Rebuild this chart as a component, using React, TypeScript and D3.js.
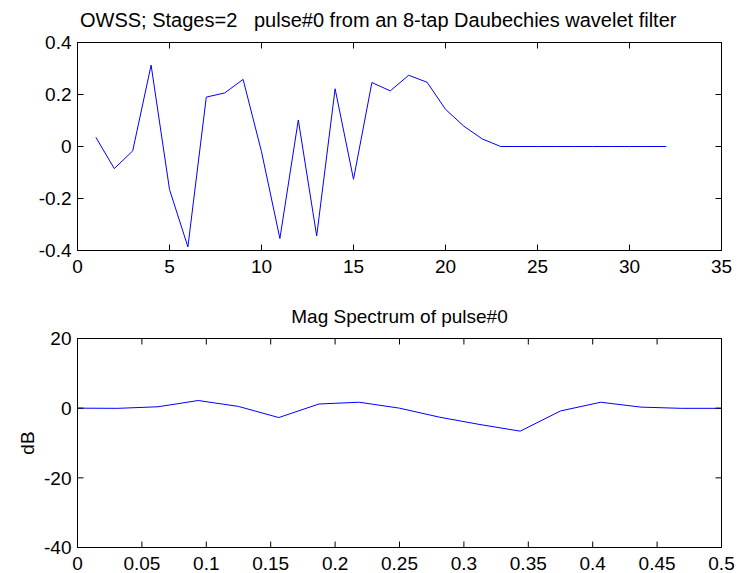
import React from "react";
import * as d3 from "d3";

const pulseX = d3.range(1, 33);
const pulseY = [
  0.035, -0.085, -0.017, 0.313, -0.165, -0.386, 0.19, 0.206, 0.258, -0.02,
  -0.354, 0.102, -0.344, 0.222, -0.126, 0.246, 0.214, 0.274, 0.247, 0.143,
  0.078, 0.029, 0, 0, 0, 0, 0, 0, 0, 0, 0, 0,
];
const freqX = d3.range(0, 17).map((i) => i / 32);
const magDb = [
  0, -0.05, 0.4, 2.2, 0.5, -2.7, 1.2, 1.7, 0, -2.6, -4.7, -6.6, -0.8, 1.7,
  0.3, -0.05, -0.05,
];
const topXTicks = [0, 5, 10, 15, 20, 25, 30, 35];
const topYTicks = [-0.4, -0.2, 0, 0.2, 0.4];
const botXTicks = [0, 0.05, 0.1, 0.15, 0.2, 0.25, 0.3, 0.35, 0.4, 0.45, 0.5];
const botYTicks = [-40, -20, 0, 20];
const topTitle = "OWSS; Stages=2   pulse#0 from an 8-tap Daubechies wavelet filter";
const botTitle = "Mag Spectrum of pulse#0";
const botYLabel = "dB";

const FONT = "'Liberation Sans', Arial, sans-serif";
const FS = 19;
const TICK = 6;

function Panel({ x0, x1, y0, y1, xDom, yDom, xTicks, yTicks, xs, ys, title, titleStyle, ylabel, fmtX, fmtY }) {
  const x = d3.scaleLinear().domain(xDom).range([x0, x1]);
  const y = d3.scaleLinear().domain(yDom).range([y1, y0]);
  const line = d3.line<number>().x((_, i) => x(xs[i])).y((d) => y(d));
  return (
    <g>
      <path d={line(ys) || ""} fill="none" stroke="#0000ff" strokeWidth={1} />
      <rect x={x0} y={y0} width={x1 - x0} height={y1 - y0} fill="none" stroke="#000" strokeWidth={1} />
      {xTicks.map((t) => (
        <g key={"x" + t}>
          <line x1={x(t)} x2={x(t)} y1={y1} y2={y1 - TICK} stroke="#000" />
          <line x1={x(t)} x2={x(t)} y1={y0} y2={y0 + TICK} stroke="#000" />
          <text x={x(t)} y={y1 + 22.5} textAnchor="middle" fontSize={FS} fontFamily={FONT}>{fmtX(t)}</text>
        </g>
      ))}
      {yTicks.map((t) => (
        <g key={"y" + t}>
          <line x1={x0} x2={x0 + TICK} y1={y(t)} y2={y(t)} stroke="#000" />
          <line x1={x1} x2={x1 - TICK} y1={y(t)} y2={y(t)} stroke="#000" />
          <text x={x0 - 6} y={y(t) + 6.8} textAnchor="end" fontSize={FS} fontFamily={FONT}>{fmtY(t)}</text>
        </g>
      ))}
      <text x={titleStyle.x ?? (x0 + x1) / 2} y={y0 - 15.5} textAnchor={titleStyle.anchor}
        fontSize={titleStyle.size} fontFamily={FONT} style={{ whiteSpace: "pre" }}>{title}</text>
      {ylabel && (
        <text transform={`translate(${x0 - 44},${(y0 + y1) / 2}) rotate(-90)`} textAnchor="middle" fontSize={FS} fontFamily={FONT}>{ylabel}</text>
      )}
    </g>
  );
}

export default function App() {
  return (
    <svg width={738} height={573} style={{ position: "absolute", left: 0, top: 0, background: "#fff" }} shapeRendering="crispEdges">
      <rect width={738} height={573} fill="#fff" />
      <g shapeRendering="auto">
        <Panel x0={77.5} x1={721.5} y0={42.5} y1={250.5} xDom={[0, 35]} yDom={[-0.4, 0.4]}
          xTicks={topXTicks} yTicks={topYTicks} xs={pulseX} ys={pulseY} title={topTitle}
          titleStyle={{ x: 80, anchor: "start", size: 20 }} ylabel={null}
          fmtX={(t) => String(t)} fmtY={(t) => String(Math.round(t * 10) / 10)} />
        <Panel x0={77.5} x1={721.5} y0={338.5} y1={547.5} xDom={[0, 0.5]} yDom={[-40, 20]}
          xTicks={botXTicks} yTicks={botYTicks} xs={freqX} ys={magDb} title={botTitle}
          titleStyle={{ anchor: "middle", size: FS }} ylabel={botYLabel}
          fmtX={(t) => String(Math.round(t * 100) / 100)} fmtY={(t) => String(t)} />
      </g>
    </svg>
  );
}
